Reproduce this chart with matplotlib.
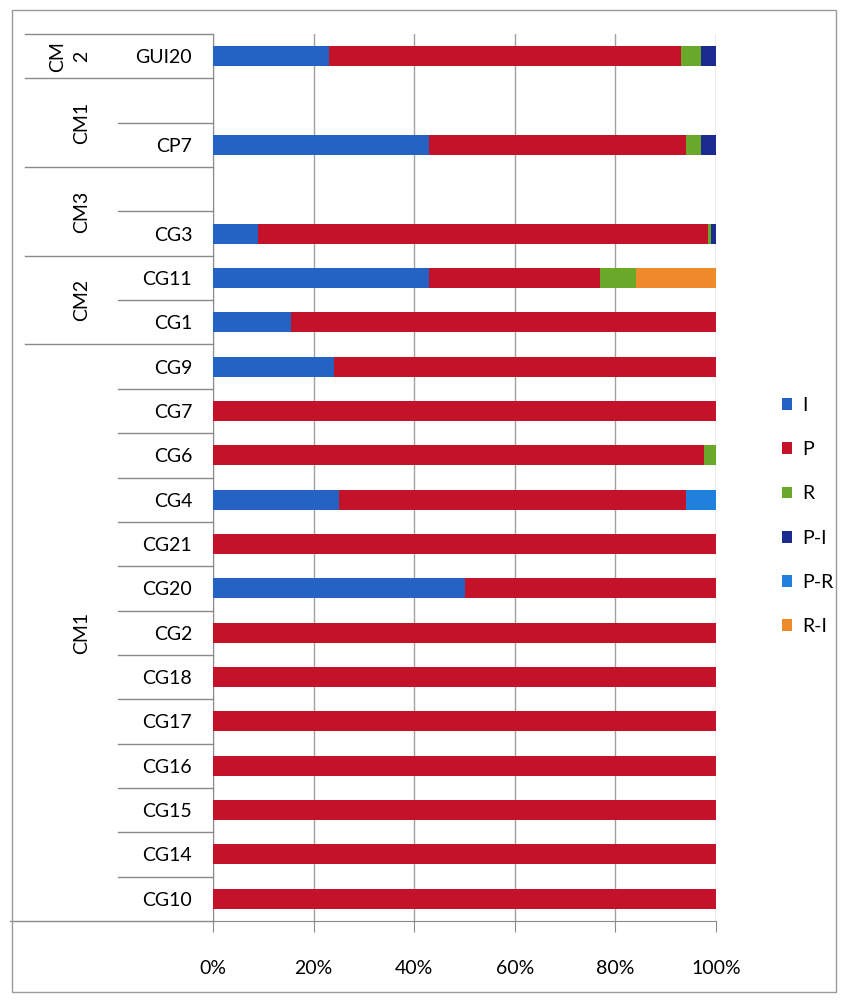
import matplotlib.pyplot as plt
import matplotlib.transforms as mtransforms
from matplotlib.patches import Patch, Rectangle

plt.rcParams['font.family'] = ['Lato', 'DejaVu Sans']

# rows from top to bottom ("" = empty row)
categories = ["GUI20", "", "CP7", "", "CG3", "CG11", "CG1", "CG9", "CG7", "CG6",
              "CG4", "CG21", "CG20", "CG2", "CG18", "CG17", "CG16", "CG15", "CG14", "CG10"]
groups = ["CM\n2", "CM1", "CM3", "CM2", "CM1"]
group_sizes = [1, 2, 2, 2, 13]

# percentages per series
I_vals  = [23, 0, 43, 0, 9,   43, 15.5, 24, 0, 0,    25, 0, 50, 0, 0, 0, 0, 0, 0, 0]
P_vals  = [70, 0, 51, 0, 89.5, 34, 84.5, 76, 100, 97.6, 69, 100, 50, 100, 100, 100, 100, 100, 100, 100]
R_vals  = [4, 0, 3, 0, 0.5,   7, 0, 0, 0, 2.4,     0, 0, 0, 0, 0, 0, 0, 0, 0, 0]
PI_vals = [3, 0, 3, 0, 1,     0, 0, 0, 0, 0,       0, 0, 0, 0, 0, 0, 0, 0, 0, 0]
PR_vals = [0, 0, 0, 0, 0,     0, 0, 0, 0, 0,       6, 0, 0, 0, 0, 0, 0, 0, 0, 0]
RI_vals = [0, 0, 0, 0, 0,     16, 0, 0, 0, 0,      0, 0, 0, 0, 0, 0, 0, 0, 0, 0]

series_names = ["I", "P", "R", "P-I", "P-R", "R-I"]
series = [I_vals, P_vals, R_vals, PI_vals, PR_vals, RI_vals]
colors = ["#2463c4", "#c4122a", "#6aa82a", "#1c2b8f", "#1f80dd", "#ee8a2a"]

fig = plt.figure(figsize=(8.48, 10.01), dpi=100)
ax = fig.add_axes([213 / 848, 1 - 921 / 1001, 503 / 848, 887 / 1001])

ypos = list(range(len(categories)))
left = [0] * len(categories)
for name, vals, col in zip(series_names, series, colors):
    ax.barh(ypos, vals, left=left, height=0.45, color=col, label=name, zorder=3)
    left = [a + b for a, b in zip(left, vals)]

ax.set_xlim(0, 100)
ax.set_ylim(len(categories) - 0.5, -0.5)
ax.set_xticks([0, 20, 40, 60, 80, 100])
ax.set_xticklabels(["0%", "20%", "40%", "60%", "80%", "100%"])
ax.set_yticks(ypos)
ax.set_yticklabels(categories)
ax.tick_params(axis='x', length=8, color='#8a8a8a', pad=20, labelsize=14)
ax.tick_params(axis='y', length=0, pad=15, labelsize=14)
ax.grid(axis='x', color='#a0a0a0', linewidth=1, zorder=0)

for s in ['top', 'right']:
    ax.spines[s].set_visible(False)
for s in ['left', 'bottom']:
    ax.spines[s].set_color('#8a8a8a')

# multi-level category lines and group labels
trans = mtransforms.blended_transform_factory(ax.transAxes, ax.transData)
ax.plot([-0.374, 0], [-0.5, -0.5], color='#8a8a8a', lw=1, transform=trans, clip_on=False)
ax.plot([-0.404, 0], [19.5, 19.5], color='#8a8a8a', lw=1, transform=trans, clip_on=False)
start = 0
for g, n in zip(groups, group_sizes):
    for k in range(1, n):
        y = start + k - 0.5
        ax.plot([-0.189, 0], [y, y], color='#8a8a8a', lw=1, transform=trans, clip_on=False)
    end = start + n - 0.5
    if end < len(categories) - 0.5:
        ax.plot([-0.374, 0], [end, end], color='#8a8a8a', lw=1, transform=trans, clip_on=False)
    xg = -0.285 if "\n" in g else -0.262
    ax.text(xg, start + (n - 1) / 2, g, rotation=90, ha='center', va='center',
            fontsize=14, transform=trans, linespacing=1.5)
    start += n

handles = [Patch(facecolor=c, label=n) for n, c in zip(series_names, colors)]
fig.legend(handles=handles, loc='center left', bbox_to_anchor=(764 / 848, 1 - 516 / 1001),
           frameon=False, fontsize=14, handlelength=0.55, handleheight=0.55,
           handletextpad=0.5, labelspacing=1.4)

# chart border
fig.patches.append(Rectangle((12 / 848, 1 - 992 / 1001), 824 / 848, 982 / 1001,
                             transform=fig.transFigure, fill=False, edgecolor='#9a9a9a', lw=1))

fig.savefig("out.png", dpi=100)
